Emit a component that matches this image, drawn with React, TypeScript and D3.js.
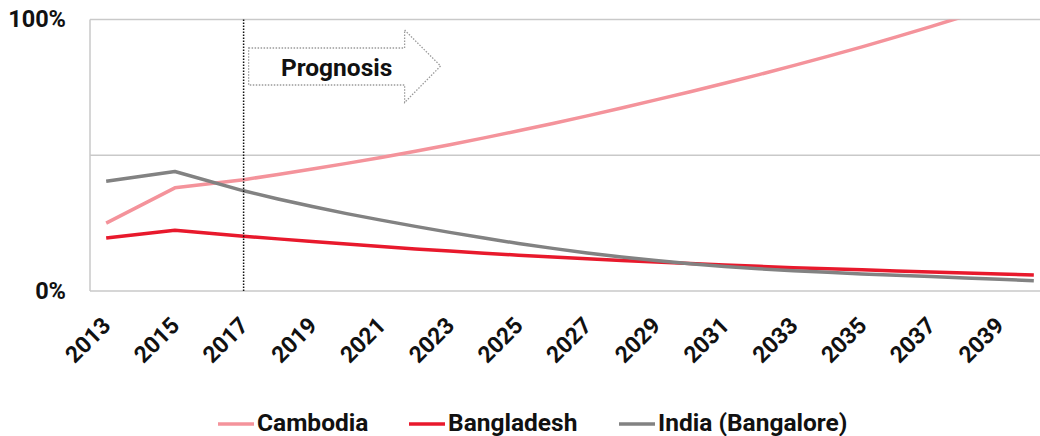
import { useEffect, useRef } from "react"
import * as d3 from "d3"

const years = d3.range(2013, 2041).map(String)

// null = no value for that year (straight segment in the source)
const cambodia: (number | null)[] = [
  25, null, 38, null, 41, 42.9, 44.9, 47.0, 49.2, 51.5, 53.9, 56.4, 59.0, 61.7,
  64.5, 67.4, 70.4, 73.4, 76.5, 79.7, 83.0, 86.4, 89.9, 93.6, 97.4, 101.3, 105.4, 109.6,
]
const bangladesh: (number | null)[] = [
  19.5, null, 22.4, null, 20.2, 19.2, 18.2, 17.3, 16.4, 15.5, 14.7, 13.9, 13.2, 12.5,
  11.9, 11.2, 10.7, 10.1, 9.6, 9.1, 8.6, 8.2, 7.8, 7.4, 7.0, 6.6, 6.3, 5.9,
]
const india: (number | null)[] = [
  40.4, null, 44, null, 36.9, 33.9, 31.1, 28.5, 26.1, 23.8, 21.6, 19.5, 17.5, 15.7,
  14.0, 12.5, 11.2, 10.0, 9.0, 8.2, 7.5, 6.9, 6.3, 5.8, 5.3, 4.8, 4.3, 3.8,
]

const series = [
  { name: "Cambodia", values: cambodia, color: "#f4939b" },
  { name: "Bangladesh", values: bangladesh, color: "#e8192c" },
  { name: "India (Bangalore)", values: india, color: "#828282" },
]

const yTicks = [0, 50, 100]
const yTickLabels = ["0%", "", "100%"]
const tickYears = years.filter((_, i) => i % 2 === 0)
const prognosisYear = "2017"

const W = 1040
const H = 436
const PLOT = { left: 89, right: 1051, top: 19.5, bottom: 291 }
const FONT = "Roboto, 'Noto Sans', sans-serif"

export default function App() {
  const svgRef = useRef<SVGSVGElement>(null)

  useEffect(() => {
    if (!svgRef.current) return
    const svg = d3.select(svgRef.current)
    svg.selectAll("*").remove()

    const x = d3.scaleBand<string>().domain(years).range([PLOT.left, PLOT.right])
    const cx = (yr: string) => (x(yr) as number) + x.bandwidth() / 2
    const y = d3.scaleLinear().domain([0, 100]).range([PLOT.bottom, PLOT.top])

    svg.append("defs").append("clipPath").attr("id", "plotclip")
      .append("rect")
      .attr("x", PLOT.left).attr("y", PLOT.top)
      .attr("width", PLOT.right - PLOT.left).attr("height", PLOT.bottom - PLOT.top)

    // gridlines
    svg.append("g").selectAll("line").data(yTicks).join("line")
      .attr("x1", 90).attr("x2", W)
      .attr("y1", (d) => y(d)).attr("y2", (d) => y(d))
      .attr("stroke", "#c9c9c9").attr("stroke-width", 1.5)
    svg.append("line")
      .attr("x1", 90).attr("x2", 90).attr("y1", y(100)).attr("y2", y(0))
      .attr("stroke", "#c9c9c9").attr("stroke-width", 1.5)

    // y labels
    svg.append("g").selectAll("text").data(yTicks).join("text")
      .attr("x", 66).attr("y", (d) => y(d) + 7.5)
      .attr("text-anchor", "end")
      .attr("font-family", FONT).attr("font-weight", 700).attr("font-size", 23.5)
      .attr("fill", "#111")
      .text((_, i) => yTickLabels[i])

    // x labels
    svg.append("g").selectAll("text").data(tickYears).join("text")
      .attr("transform", (d) => `translate(${cx(d) + 6},${PLOT.bottom + 36}) rotate(-45)`)
      .attr("text-anchor", "end")
      .attr("font-family", FONT).attr("font-weight", 700).attr("font-size", 23)
      .attr("fill", "#111")
      .text((d) => d)

    // lines
    const line = d3.line<[string, number]>().x((d) => cx(d[0])).y((d) => y(d[1]))
    const lines = svg.append("g").attr("clip-path", "url(#plotclip)")
    series.forEach((s) => {
      const pts = years
        .map((yr, i) => [yr, s.values[i]] as [string, number | null])
        .filter((d) => d[1] != null) as [string, number][]
      lines.append("path")
        .datum(pts)
        .attr("fill", "none")
        .attr("stroke", s.color)
        .attr("stroke-width", 3.5)
        .attr("stroke-linejoin", "round")
        .attr("d", line)
    })

    // prognosis marker
    const px = cx(prognosisYear)
    svg.append("line")
      .attr("x1", px).attr("x2", px).attr("y1", y(100)).attr("y2", y(0))
      .attr("stroke", "#111").attr("stroke-width", 1.5).attr("stroke-dasharray", "1.5,1.5")

    const ax = px + 5
    const arrow = [
      [ax, 48], [ax + 156, 48], [ax + 156, 30], [ax + 192, 66],
      [ax + 156, 102.5], [ax + 156, 85], [ax, 85],
    ]
    svg.append("path")
      .attr("d", "M" + arrow.map((p) => p.join(",")).join("L") + "Z")
      .attr("fill", "#fff")
      .attr("stroke", "#9a9a9a").attr("stroke-width", 1.3).attr("stroke-dasharray", "1.5,1.5")
    svg.append("text")
      .attr("x", ax + 88).attr("y", 75.5)
      .attr("text-anchor", "middle")
      .attr("font-family", FONT).attr("font-weight", 700).attr("font-size", 24.5)
      .attr("fill", "#111")
      .text("Prognosis")

    // legend
    const legendX = [218, 409, 619]
    const legend = svg.append("g")
    series.forEach((s, i) => {
      legend.append("line")
        .attr("x1", legendX[i]).attr("x2", legendX[i] + 36)
        .attr("y1", 424).attr("y2", 424)
        .attr("stroke", s.color).attr("stroke-width", 3.5)
      legend.append("text")
        .attr("x", legendX[i] + 39).attr("y", 431)
        .attr("font-family", FONT).attr("font-weight", 700).attr("font-size", 24.5)
        .attr("fill", "#111")
        .text(s.name)
    })
  }, [])

  return (
    <svg
      ref={svgRef}
      width={W}
      height={H}
      style={{ position: "absolute", left: 0, top: 0, display: "block", background: "#fff" }}
    />
  )
}
